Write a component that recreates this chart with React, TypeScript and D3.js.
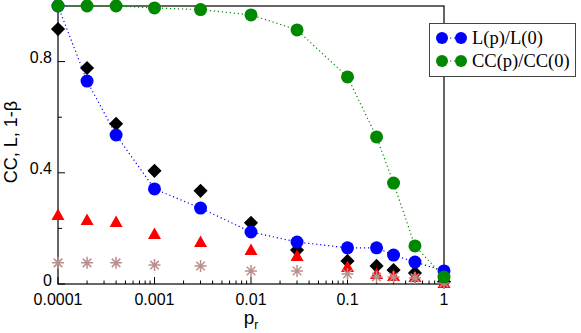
import { useRef, useEffect } from "react";
import * as d3 from "d3";

const pr = [0.0001, 0.0002, 0.0004, 0.001, 0.003, 0.01, 0.03, 0.1, 0.2, 0.3, 0.5, 1];
const lRatio = [1.0, 0.73, 0.536, 0.342, 0.273, 0.187, 0.151, 0.13, 0.13, 0.104, 0.079, 0.047];
const ccRatio = [1.0, 1.0, 1.0, 0.993, 0.987, 0.968, 0.914, 0.745, 0.529, 0.363, 0.137, 0.025];
const diamonds = [0.917, 0.777, 0.576, 0.407, 0.335, 0.22, 0.122, 0.083, 0.065, 0.05, 0.04, 0.008];
const triangles = [0.248, 0.23, 0.223, 0.18, 0.151, 0.122, 0.101, 0.061, 0.036, 0.029, 0.025, 0.004];
const stars = [0.076, 0.076, 0.076, 0.068, 0.065, 0.047, 0.047, 0.036, 0.025, 0.025, 0.022, 0.004];

const xTicks = [0.0001, 0.001, 0.01, 0.1, 1];
const xTickLabels = ["0.0001", "0.001", "0.01", "0.1", "1"];
const yTicks = [0, 0.4, 0.8];
const yTickLabels = ["0", "0.4", "0.8"];
const yMinor = [0.2, 0.6];
const legendLabels = ["L(p)/L(0)", "CC(p)/CC(0)"];
const legendColors = ["#0000ff", "#008800"];

export default function App() {
  const ref = useRef<SVGSVGElement>(null);
  const width = 581,
    height = 333;
  const margin = { left: 58, top: 6, right: 137, bottom: 49 };

  useEffect(() => {
    const svg = d3.select(ref.current);
    svg.selectAll("*").remove();

    const x = d3.scaleLog().domain([0.0001, 1]).range([margin.left, width - margin.right]);
    const y = d3.scaleLinear().domain([0, 1]).range([height - margin.bottom, margin.top]);
    const x0 = x.range()[0],
      x1 = x.range()[1],
      y0 = y.range()[0],
      y1 = y.range()[1];
    const sans = "'Liberation Sans', Arial, sans-serif";

    // frame: left, bottom, top, right
    svg
      .append("rect")
      .attr("x", x0)
      .attr("y", y1)
      .attr("width", x1 - x0)
      .attr("height", y0 - y1)
      .attr("fill", "none")
      .attr("stroke", "#000")
      .attr("stroke-width", 1.2);

    // x ticks (inward)
    const minorX: number[] = [];
    for (let e = -4; e < 0; e++) for (let m = 2; m <= 9; m++) minorX.push(m * Math.pow(10, e));
    svg
      .selectAll(".xminor")
      .data(minorX)
      .join("line")
      .attr("x1", (d) => x(d))
      .attr("x2", (d) => x(d))
      .attr("y1", y0)
      .attr("y2", y0 - 3.5)
      .attr("stroke", "#000");
    svg
      .selectAll(".xmajor")
      .data(xTicks)
      .join("line")
      .attr("x1", (d) => x(d))
      .attr("x2", (d) => x(d))
      .attr("y1", y0)
      .attr("y2", y0 - 7)
      .attr("stroke", "#000");
    svg
      .selectAll(".xlab")
      .data(xTicks)
      .join("text")
      .attr("x", (d) => x(d))
      .attr("y", y0 + 21)
      .attr("text-anchor", "middle")
      .attr("font-family", sans)
      .attr("font-size", 16)
      .text((d, i) => xTickLabels[i]);

    // y ticks (inward)
    svg
      .selectAll(".ymajor")
      .data(yTicks)
      .join("line")
      .attr("x1", x0)
      .attr("x2", x0 + 7)
      .attr("y1", (d) => y(d))
      .attr("y2", (d) => y(d))
      .attr("stroke", "#000");
    svg
      .selectAll(".yminor")
      .data(yMinor)
      .join("line")
      .attr("x1", x0)
      .attr("x2", x0 + 4)
      .attr("y1", (d) => y(d))
      .attr("y2", (d) => y(d))
      .attr("stroke", "#000");
    svg
      .selectAll(".ylab")
      .data(yTicks)
      .join("text")
      .attr("x", x0 - 6)
      .attr("y", (d) => y(d) + 1.5)
      .attr("text-anchor", "end")
      .attr("font-family", sans)
      .attr("font-size", 16)
      .text((d, i) => yTickLabels[i]);

    // axis titles
    svg
      .append("text")
      .attr("transform", `translate(17, ${(y0 + y1) / 2 - 3}) rotate(-90)`)
      .attr("text-anchor", "middle")
      .attr("font-family", sans)
      .attr("font-size", 18)
      .text("CC, L, 1-β");
    const xt = svg
      .append("text")
      .attr("x", (x0 + x1) / 2)
      .attr("y", 324)
      .attr("text-anchor", "middle")
      .attr("font-family", sans)
      .attr("font-size", 19);
    xt.append("tspan").text("p");
    xt.append("tspan").attr("font-size", 12).attr("dy", 5).text("r");

    const pts = (vals: number[]) => pr.map((p, i) => [x(p), y(vals[i])] as [number, number]);

    // black diamonds
    svg
      .selectAll(".dia")
      .data(pts(diamonds))
      .join("path")
      .attr("transform", (d) => `translate(${d[0]},${d[1]}) rotate(45)`)
      .attr("d", "M-5,-5H5V5H-5Z")
      .attr("fill", "#000");

    // red triangles
    svg
      .selectAll(".tri")
      .data(pts(triangles))
      .join("path")
      .attr("transform", (d) => `translate(${d[0]},${d[1]})`)
      .attr("d", "M0,-6.5L6.5,5L-6.5,5Z")
      .attr("fill", "#ff0000");

    // brown asterisks
    const star = d3.range(4).map((k) => {
      const a = (k * Math.PI) / 4;
      return `M${-6 * Math.cos(a)},${-6 * Math.sin(a)}L${6 * Math.cos(a)},${6 * Math.sin(a)}`;
    }).join("");
    svg
      .selectAll(".star")
      .data(pts(stars))
      .join("path")
      .attr("transform", (d) => `translate(${d[0]},${d[1]})`)
      .attr("d", star)
      .attr("stroke", "#bc8f8f")
      .attr("stroke-width", 1.5)
      .attr("fill", "none");

    // dotted lines + circles
    const line = d3.line();
    [lRatio, ccRatio].forEach((vals, k) => {
      svg
        .append("path")
        .attr("d", line(pts(vals)))
        .attr("fill", "none")
        .attr("stroke", legendColors[k])
        .attr("stroke-width", 1.2)
        .attr("stroke-dasharray", "1.2,2.8");
      svg
        .append("g")
        .selectAll("circle")
        .data(pts(vals))
        .join("circle")
        .attr("cx", (d) => d[0])
        .attr("cy", (d) => d[1])
        .attr("r", 6.5)
        .attr("fill", legendColors[k]);
    });

    // legend
    const lg = svg.append("g");
    lg.append("rect")
      .attr("x", 429.5)
      .attr("y", 23.5)
      .attr("width", 146)
      .attr("height", 53)
      .attr("fill", "#fff")
      .attr("stroke", "#444")
      .attr("stroke-width", 1);
    legendLabels.forEach((lab, i) => {
      const ly = 38 + i * 23;
      lg.append("line")
        .attr("x1", 442)
        .attr("x2", 461)
        .attr("y1", ly)
        .attr("y2", ly)
        .attr("stroke", legendColors[i])
        .attr("stroke-width", 1.2)
        .attr("stroke-dasharray", "1.2,2.8");
      [442, 461].forEach((cx) =>
        lg.append("circle").attr("cx", cx).attr("cy", ly).attr("r", 6).attr("fill", legendColors[i])
      );
      lg.append("text")
        .attr("x", 472)
        .attr("y", ly + 6)
        .attr("font-family", "'Liberation Serif', 'Times New Roman', serif")
        .attr("font-size", 18.5)
        .text(lab);
    });
  }, []);

  return (
    <svg
      ref={ref}
      width={width}
      height={height}
      style={{ position: "absolute", left: 0, top: 0, background: "#fff" }}
    />
  );
}
